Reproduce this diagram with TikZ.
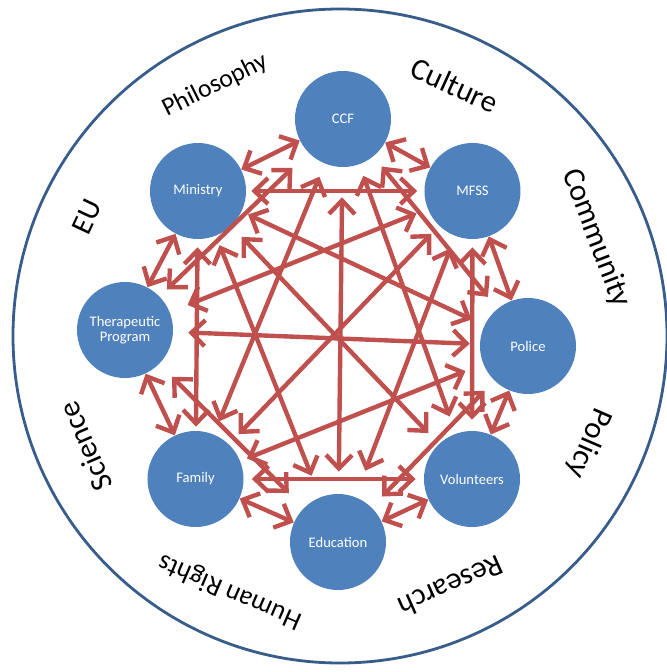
\documentclass[tikz,border=0pt]{standalone}
\usepackage{fontspec}
\setmainfont{Carlito}
\usetikzlibrary{arrows.meta}

\definecolor{agentblue}{HTML}{4F81BD}
\definecolor{ringblue}{HTML}{385D8A}
\definecolor{linkred}{HTML}{C0504D}

\begin{document}
\begin{tikzpicture}[
        agent/.style={circle, fill=agentblue, minimum size=1.92cm, inner sep=0pt, align=center,
            text=white, font=\fontsize{8.3}{8.8}\selectfont},
        link/.style={draw=linkred, line width=2.5pt, >={Straight Barb[length=2.7mm, width=5.2mm]}, <->},
        topic/.style={font=\fontsize{#1}{#1}\selectfont}
    ]
        \useasboundingbox (-6.8,-6.72) rectangle (6.54,6.72);
        % outer ring
        \draw[ringblue, line width=1.6pt] (0,0) circle (6.54);

        % words round the ring
        \node[topic=14.6, rotate=26.5] (philosophy) at (116.5:5.6) {Philosophy};
        \node[topic=17.5, rotate=-24.6] (culture) at (65.4:5.52) {Culture};
        \node[topic=17.5, rotate=-69.1] (community) at (20.9:5.48) {Community};
        \node[topic=17.5, rotate=-113.3] (policy) at (-23.3:5.42) {Policy};
        \node[topic=17.2, rotate=-156.1] (research) at (-66.1:5.48) {Research};
        \node[topic=15.4, rotate=-203.3] (rights) at (-113.3:5.56) {Human Rights};
        \node[topic=17.4, rotate=-246.5] (science) at (-156.5:5.56) {Science};
        \node[topic=17, rotate=64.8] (eu) at (154.8:5.6) {EU};

        % the eight bodies
        \node[agent] (ccf) at (0.06,4.34) {CCF};
        \node[agent] (mfss) at (2.65,2.90) {MFSS};
        \node[agent] (police) at (3.76,-0.20) {Police};
        \node[agent] (vol) at (2.64,-2.86) {Volunteers};
        \node[agent] (edu) at (-0.04,-4.12) {Education};
        \node[agent] (family) at (-2.89,-2.86) {Family};
        \node[agent] (thera) at (-4.30,0.12) {Therapeutic\\Program};
        \node[agent] (ministry) at (-2.84,2.90) {Ministry};

        % neighbours round the ring
        \draw[link] (ccf) -- (mfss);
        \draw[link] (mfss) -- (police);
        \draw[link] (police) -- (vol);
        \draw[link] (vol) -- (edu);
        \draw[link] (edu) -- (family);
        \draw[link] (family) -- (thera);
        \draw[link] (thera) -- (ministry);
        \draw[link] (ministry) -- (ccf);

        % links across the middle
        \draw[link, shorten <=1mm, shorten >=1.4mm] (ministry) -- (mfss);
        \draw[link, shorten <=1.6mm, shorten >=1.6mm] (family) -- (vol);
        \draw[link, shorten <=1.6mm, shorten >=0.8mm] (ministry) -- (family);
        \draw[link, shorten <=1.6mm, shorten >=2.2mm] (mfss) -- (vol);
        \draw[link, shorten <=3mm, shorten >=2mm] (thera) -- (police);
        \draw[link, shorten <=6mm, shorten >=4.4mm] (ccf) -- (edu);
        \draw[link, shorten <=3mm, shorten >=3mm] (ministry) -- (vol);
        \draw[link, shorten <=2mm, shorten >=4.6mm] (ministry) -- (edu);
        \draw[link, shorten <=1.4mm, shorten >=2.8mm] (ministry) -- (police);
        \draw[link, shorten <=2mm, shorten >=4.4mm] (thera) -- (ccf);
        \draw[link, shorten <=3.8mm, shorten >=2.4mm] (thera) -- (mfss);
        \draw[link, shorten <=2.8mm, shorten >=2.8mm] (ccf) -- (family);
        \draw[link, shorten <=2.2mm, shorten >=2.8mm] (mfss) -- (family);
        \draw[link, shorten <=1.4mm, shorten >=3.8mm] (family) -- (police);
        \draw[link, shorten <=3.6mm, shorten >=4.2mm] (thera) -- (edu);
        \draw[link, shorten <=3mm, shorten >=2.8mm] (edu) -- (police);
        \draw[link, shorten <=2.6mm, shorten >=3mm] (ccf) -- (police);
        \draw[link, shorten <=2.4mm, shorten >=3.6mm] (ccf) -- (vol);
        \draw[link, shorten <=2.6mm, shorten >=5.6mm] (mfss) -- (edu);
    \end{tikzpicture}
\end{document}
